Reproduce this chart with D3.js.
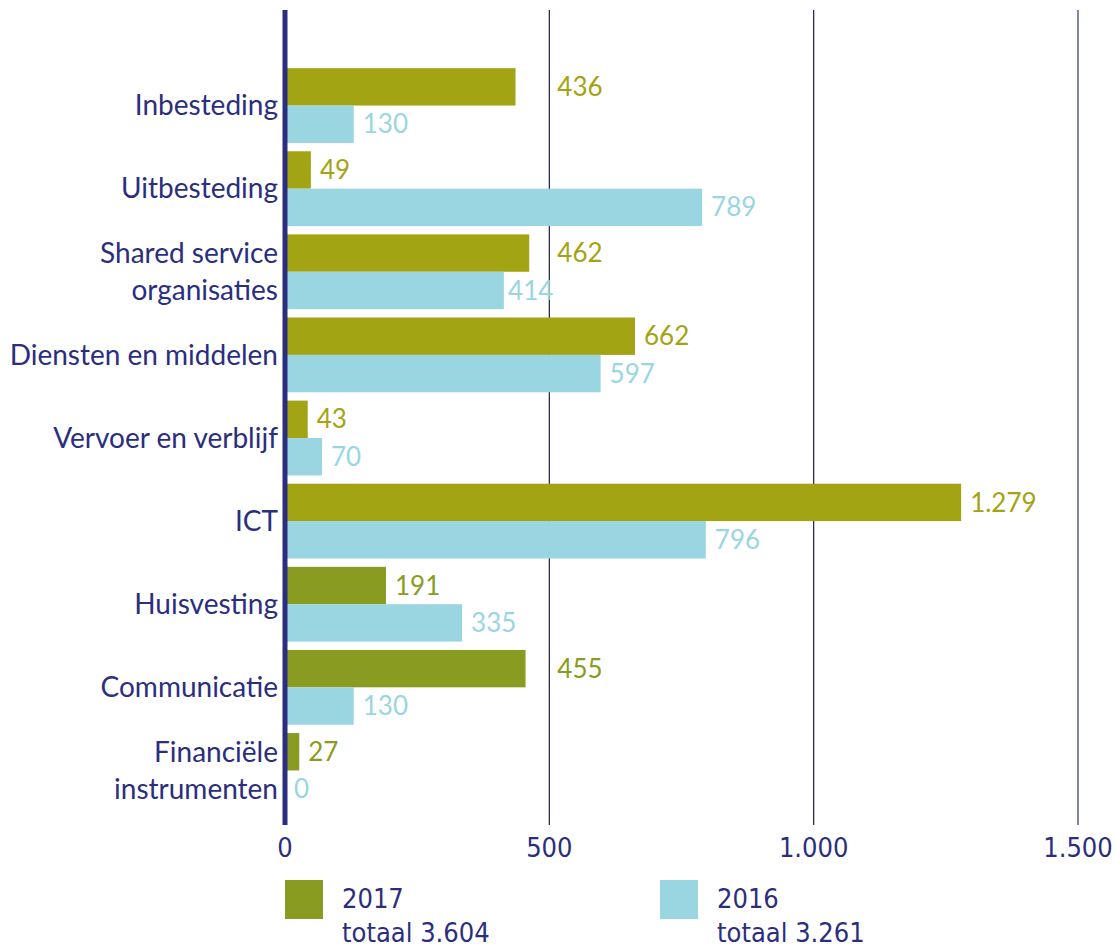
<!DOCTYPE html>
<html>
<head>
<meta charset="utf-8">
<script src="https://cdn.jsdelivr.net/npm/d3@7"></script>
<style>
  body { margin: 0; background: #fff; }
  text { font-family: Lato, "Open Sans", sans-serif; }
  .tick-label, .legend-text { font-family: "Liberation Sans Narrow", "DejaVu Sans Condensed", "DejaVu Sans", sans-serif; font-stretch: condensed; }
</style>
</head>
<body>
<div id="plot"></div>
<script>
var categories = [
  ["Inbesteding"],
  ["Uitbesteding"],
  ["Shared service", "organisaties"],
  ["Diensten en middelen"],
  ["Vervoer en verblijf"],
  ["ICT"],
  ["Huisvesting"],
  ["Communicatie"],
  ["Financiële", "instrumenten"]
];
var values2017 = [436, 49, 462, 662, 43, 1279, 191, 455, 27];
var values2016 = [130, 789, 414, 597, 70, 796, 335, 130, 0];
var tickValues = [0, 500, 1000, 1500];
var legendLabels = [["2017", "totaal 3.604"], ["2016", "totaal 3.261"]];

var navy = "#2b2e7e";
var olive = "#a3a413";
var oliveDark = "#8a9b22";
var blue = "#9ad5e2";

var width = 1116, height = 948;
var svg = d3.select("div#plot")
  .append("svg")
    .attr("width", width)
    .attr("height", height);

var xscale = d3.scaleLinear()
  .domain([0, 1500])
  .range([285, 1078]);

var yscale = d3.scaleBand()
  .domain(d3.range(categories.length))
  .range([64, 812])
  .paddingInner(0.1)
  .paddingOuter(0.05);

var fmt = function(v) {
  return d3.format(",")(v).replace(/,/g, ".");
};

// gridlines
svg.selectAll("line.grid")
  .data(tickValues.slice(1))
  .enter().append("line")
    .attr("class", "grid")
    .attr("x1", function(d) { return xscale(d); })
    .attr("x2", function(d) { return xscale(d); })
    .attr("y1", 10)
    .attr("y2", 825)
    .attr("stroke", function(d) { return d == 1500 ? navy : "#1c1c44"; })
    .attr("stroke-width", 1.2);

var barH = yscale.bandwidth() / 2;
var rows = svg.selectAll("g.row")
  .data(categories)
  .enter().append("g")
    .attr("class", "row")
    .attr("transform", function(d, i) { return "translate(0," + yscale(i) + ")"; });

rows.append("rect")
  .attr("x", xscale(0))
  .attr("y", 0)
  .attr("height", barH)
  .attr("width", function(d, i) { return xscale(values2017[i]) - xscale(0); })
  .style("fill", function(d, i) { return i >= 6 ? oliveDark : olive; });

rows.append("rect")
  .attr("x", xscale(0))
  .attr("y", barH)
  .attr("height", barH)
  .attr("width", function(d, i) { return xscale(values2016[i]) - xscale(0); })
  .style("fill", blue);

// value labels: squeeze before a gridline if there is room, else jump past it
function labelX(v, w) {
  var end = xscale(v);
  var x = end + 9;
  tickValues.slice(1).forEach(function(t) {
    var gx = xscale(t);
    var limit = gx + 4;
    if (x < gx && x + w > limit) {
      x = (limit - w >= end - 1) ? limit - w : gx + 8;
    }
  });
  return x;
}

[[values2017, 0, function(i) { return i >= 6 ? oliveDark : olive; }],
 [values2016, 1, function() { return blue; }]].forEach(function(s) {
  rows.append("text")
    .attr("y", barH * s[1] + barH / 2)
    .attr("dy", ".35em")
    .style("font-size", "26px")
    .style("fill", function(d, i) { return s[2](i); })
    .text(function(d, i) { return fmt(s[0][i]); })
    .attr("x", function(d, i) {
      return labelX(s[0][i], this.getComputedTextLength());
    });
});

// category labels
rows.each(function(d) {
  var t = d3.select(this).append("text")
    .attr("x", 278)
    .attr("text-anchor", "end")
    .style("font-size", "28px")
    .style("fill", navy);
  d.forEach(function(line, j) {
    t.append("tspan")
      .attr("x", 278)
      .attr("y", yscale.bandwidth() / 2 + (j - (d.length - 1) / 2) * 37)
      .attr("dy", ".35em")
      .text(line);
  });
});

// left axis line
svg.append("line")
  .attr("x1", xscale(0)).attr("x2", xscale(0))
  .attr("y1", 10).attr("y2", 825)
  .attr("stroke", navy)
  .attr("stroke-width", 5);

// tick labels
svg.selectAll("text.tick-label")
  .data(tickValues)
  .enter().append("text")
    .attr("class", "tick-label")
    .attr("x", function(d) { return xscale(d); })
    .attr("y", 857)
    .attr("text-anchor", "middle")
    .style("font-size", "27px")
    .style("fill", navy)
    .text(fmt);

// legend
var legend = svg.selectAll("g.legend")
  .data(legendLabels)
  .enter().append("g")
    .attr("class", "legend")
    .attr("transform", function(d, i) { return "translate(" + (285 + i * 375) + ",880)"; });

legend.append("rect")
  .attr("width", 38)
  .attr("height", 39)
  .style("fill", function(d, i) { return i == 0 ? oliveDark : blue; });

legend.each(function(d) {
  var g = d3.select(this);
  d.forEach(function(line, j) {
    g.append("text")
      .attr("class", "legend-text")
      .attr("x", 57)
      .attr("y", 28 + j * 34)
      .style("font-size", "27px")
      .style("fill", navy)
      .text(line);
  });
});
</script>
</body>
</html>
